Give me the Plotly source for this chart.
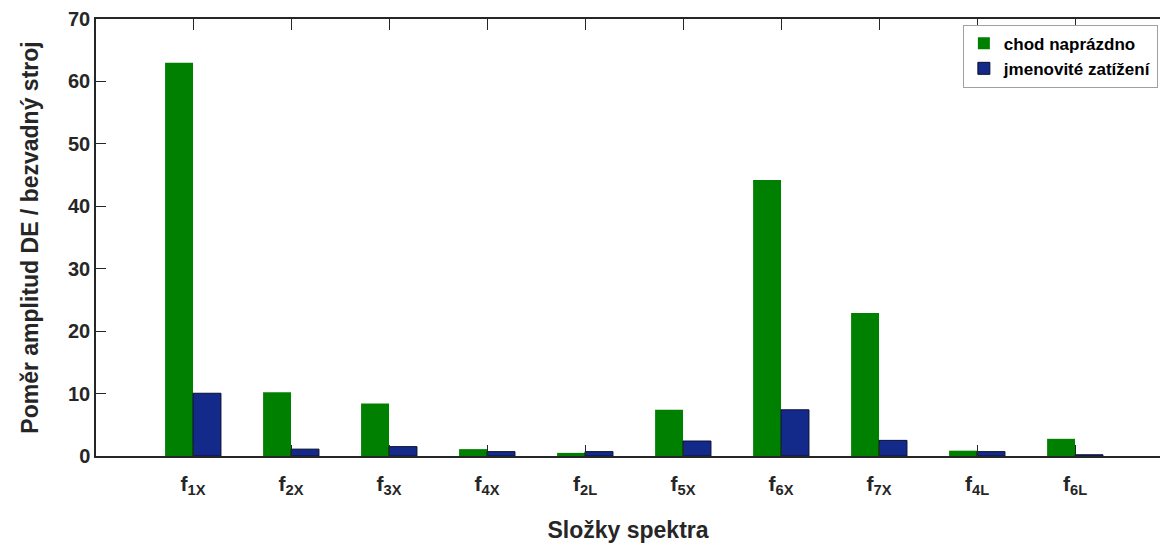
import plotly.graph_objects as go

categories = ["f<sub>1X</sub>", "f<sub>2X</sub>", "f<sub>3X</sub>", "f<sub>4X</sub>", "f<sub>2L</sub>",
              "f<sub>5X</sub>", "f<sub>6X</sub>", "f<sub>7X</sub>", "f<sub>4L</sub>", "f<sub>6L</sub>"]
chod_naprazdno = [63.0, 10.2, 8.4, 1.1, 0.5, 7.4, 44.2, 22.9, 0.85, 2.75]
jmenovite_zatizeni = [10.05, 1.1, 1.5, 0.7, 0.7, 2.4, 7.4, 2.5, 0.7, 0.2]
y_ticks = [0, 10, 20, 30, 40, 50, 60, 70]

FONT = "Liberation Sans, Arial, sans-serif"
AX = "#262626"

fig = go.Figure()
fig.add_trace(go.Bar(x=categories, y=chod_naprazdno, name="chod naprázdno",
                     marker=dict(color="#008000", line=dict(width=0))))
fig.add_trace(go.Bar(x=categories, y=jmenovite_zatizeni, name="jmenovité zatížení",
                     marker=dict(color="rgb(20,42,138)", line=dict(color="#0a0f30", width=1))))

fig.update_layout(
    width=1160, height=543,
    margin=dict(l=96, r=0, t=19, b=87),
    paper_bgcolor="white", plot_bgcolor="white",
    barmode="group", bargap=0.43, bargroupgap=0,
    font=dict(family=FONT, color=AX),
    legend=dict(x=0.998, xanchor="right", y=0.987, yanchor="top",
                bgcolor="white", bordercolor="#a0a0a0", borderwidth=1,
                font=dict(size=17, family=FONT, color="black", weight="bold"),
                tracegroupgap=0, itemwidth=30),
    showlegend=True,
)
fig.update_xaxes(
    type="category", range=[-0.99, 9.867],
    showline=True, linecolor=AX, linewidth=1.5, mirror="ticks",
    ticks="inside", ticklen=11, tickcolor=AX, tickwidth=1.2,
    tickfont=dict(size=21, family=FONT, color=AX, weight="bold"),
    ticklabelstandoff=8,
    showgrid=False, zeroline=False,
    title=dict(text="Složky spektra", font=dict(size=23, family=FONT, color=AX, weight="bold"),
               standoff=27),
)
fig.update_yaxes(
    range=[0, 70], tickvals=y_ticks,
    showline=True, linecolor=AX, linewidth=1.5, mirror=False,
    ticks="inside", ticklen=10, tickcolor=AX, tickwidth=1.2,
    tickfont=dict(size=20, family=FONT, color=AX, weight="bold"),
    showgrid=False, zeroline=False,
    title=dict(text="Poměr amplitud DE / bezvadný stroj",
               font=dict(size=23, family=FONT, color=AX, weight="bold"), standoff=23),
)

fig.write_html("out.html")
